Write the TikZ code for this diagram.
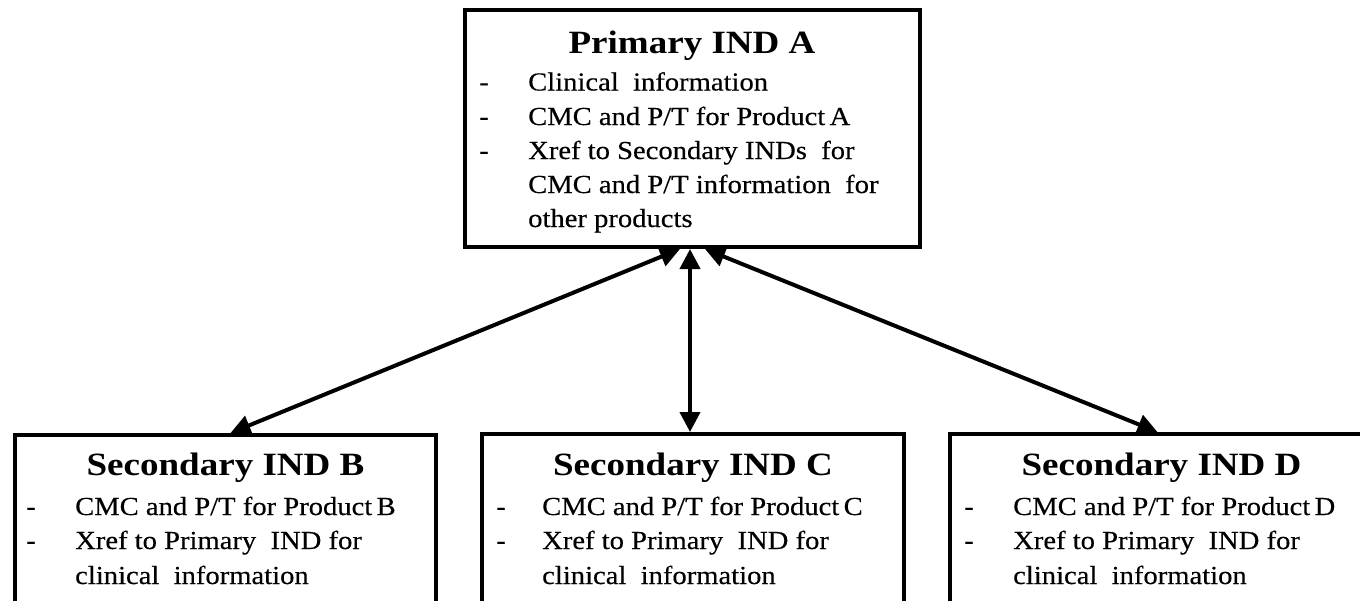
\documentclass[tikz,border=0pt]{standalone}
\usepackage{fontspec}
\setmainfont[FakeStretch=1.14]{Liberation Serif}
\newfontfamily\bodyfont[FakeStretch=1.1,FakeBold=0.35]{Liberation Serif}
\usetikzlibrary{arrows.meta}
\begin{document}
\begin{tikzpicture}[x=1pt,y=-1pt,
  panel/.style={draw, line width=4pt, inner sep=0pt},
  heading/.style={anchor=base, inner sep=0pt, font=\fontsize{32.5}{39}\selectfont\bfseries},
  dashmark/.style={anchor=base, inner sep=0pt, font=\bodyfont\fontsize{26}{34}\selectfont},
  item/.style={anchor=base west, inner sep=0pt, font=\bodyfont\fontsize{26}{34}\selectfont},
  link/.style={line width=4pt,
    {Triangle[length=20pt,width=20pt]}-{Triangle[length=20pt,width=20pt]}}
]
\clip (0,0) rectangle (1360,600);
\fill[white] (0,0) rectangle (1360,600);

% primary IND
\node[panel, minimum width=455pt, minimum height=237pt] (A) at (692,128.5) {};
\node[heading] (tA) at (692,53) {Primary IND A};
\node[dashmark] (dA1) at (484,90.5) {-};
\node[item] (iA1) at (528,90.5) {Clinical\ \ information};
\node[dashmark] (dA2) at (484,125) {-};
\node[item] (iA2) at (528,125) {CMC and P/T for Product\,A};
\node[dashmark] (dA3) at (484,159) {-};
\node[item] (iA3) at (528,159) {Xref to Secondary INDs\ \ for};
\node[item] (iA4) at (528,193) {CMC and P/T information\ \ for};
\node[item] (iA5) at (528,227) {other products};

% secondary IND B
\node[panel, minimum width=421pt, minimum height=185pt] (B) at (225.5,527.5) {};
\node[heading] (tB) at (225.5,475) {Secondary IND B};
\node[dashmark] (dB1) at (31,515) {-};
\node[item] (iB1) at (75,515) {CMC and P/T for Product\,B};
\node[dashmark] (dB2) at (31,549) {-};
\node[item] (iB2) at (75,549) {Xref to Primary\ \ IND for};
\node[item] (iB3) at (75,584) {clinical\ \ information};

% secondary IND C
\node[panel, minimum width=422pt, minimum height=186pt] (C) at (693,527) {};
\node[heading] (tC) at (693,475) {Secondary IND C};
\node[dashmark] (dC1) at (501,515) {-};
\node[item] (iC1) at (542,515) {CMC and P/T for Product\,C};
\node[dashmark] (dC2) at (501,549) {-};
\node[item] (iC2) at (542,549) {Xref to Primary\ \ IND for};
\node[item] (iC3) at (542,584) {clinical\ \ information};

% secondary IND D
\node[panel, minimum width=423pt, minimum height=186pt] (D) at (1161.5,527) {};
\node[heading] (tD) at (1161.5,475) {Secondary IND D};
\node[dashmark] (dD1) at (969,515) {-};
\node[item] (iD1) at (1013,515) {CMC and P/T for Product\,D};
\node[dashmark] (dD2) at (969,549) {-};
\node[item] (iD2) at (1013,549) {Xref to Primary\ \ IND for};
\node[item] (iD3) at (1013,584) {clinical\ \ information};

% cross-references between the INDs
\draw[link] ([xshift=-12pt]A.south) -- ([xshift=5pt]B.north);
\draw[link] ([xshift=-2pt]A.south) -- ([xshift=-3pt]C.north);
\draw[link] ([xshift=13pt]A.south) -- ([xshift=-4pt]D.north);
\end{tikzpicture}
\end{document}
